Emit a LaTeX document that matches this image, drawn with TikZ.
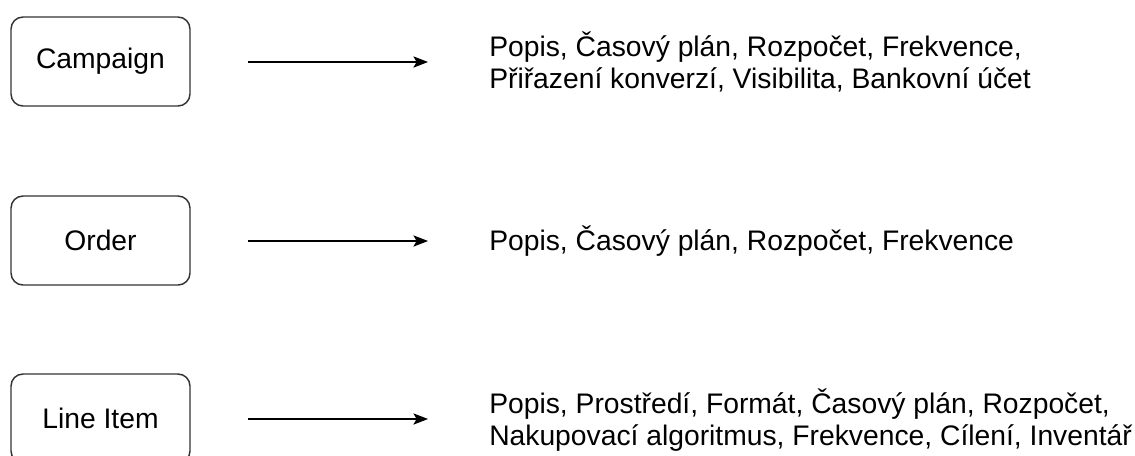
\documentclass[tikz,border=0pt]{standalone}
\usepackage{fontspec}
\setmainfont{Liberation Sans}
\usetikzlibrary{arrows.meta}
\begin{document}
\begin{tikzpicture}[x=0.75pt,y=-0.75pt,
  entity/.style={draw=black!80, line width=1.1pt, rounded corners=9pt, minimum width=134.25pt, minimum height=66.75pt, inner sep=0pt, font=\fontsize{21.2pt}{25pt}\selectfont},
  attrs/.style={anchor=west, align=left, inner sep=0pt, font=\fontsize{21.2pt}{23.6pt}\selectfont},
  conn/.style={-{Stealth[length=11pt,width=8.5pt,inset=2.5pt]}, line width=0.8pt, black},
  every node/.style={text=black}]
\useasboundingbox (0,0) rectangle (1135,455);
\node[entity] (campaign) at (100.5,61.5) {Campaign};
\node[entity] (order) at (100.5,240.5) {Order};
\node[entity] (lineitem) at (100.5,418.5) {Line Item};
\coordinate (a1s) at (248,62); \coordinate (a1e) at (428,62);
\coordinate (a2s) at (248,241); \coordinate (a2e) at (428,241);
\coordinate (a3s) at (248,419); \coordinate (a3e) at (428,419);
\draw[conn] (a1s) -- (a1e);
\draw[conn] (a2s) -- (a2e);
\draw[conn] (a3s) -- (a3e);
\node[attrs] (t1) at (489,62) {Popis, Časový plán, Rozpočet, Frekvence,\\Přiřazení konverzí, Visibilita, Bankovní účet};
\node[attrs] (t2) at (489,241) {Popis, Časový plán, Rozpočet, Frekvence};
\node[attrs] (t3) at (489,420) {Popis, Prostředí, Formát, Časový plán, Rozpočet,\\Nakupovací algoritmus, Frekvence, Cílení, Inventář};
\end{tikzpicture}
\end{document}
